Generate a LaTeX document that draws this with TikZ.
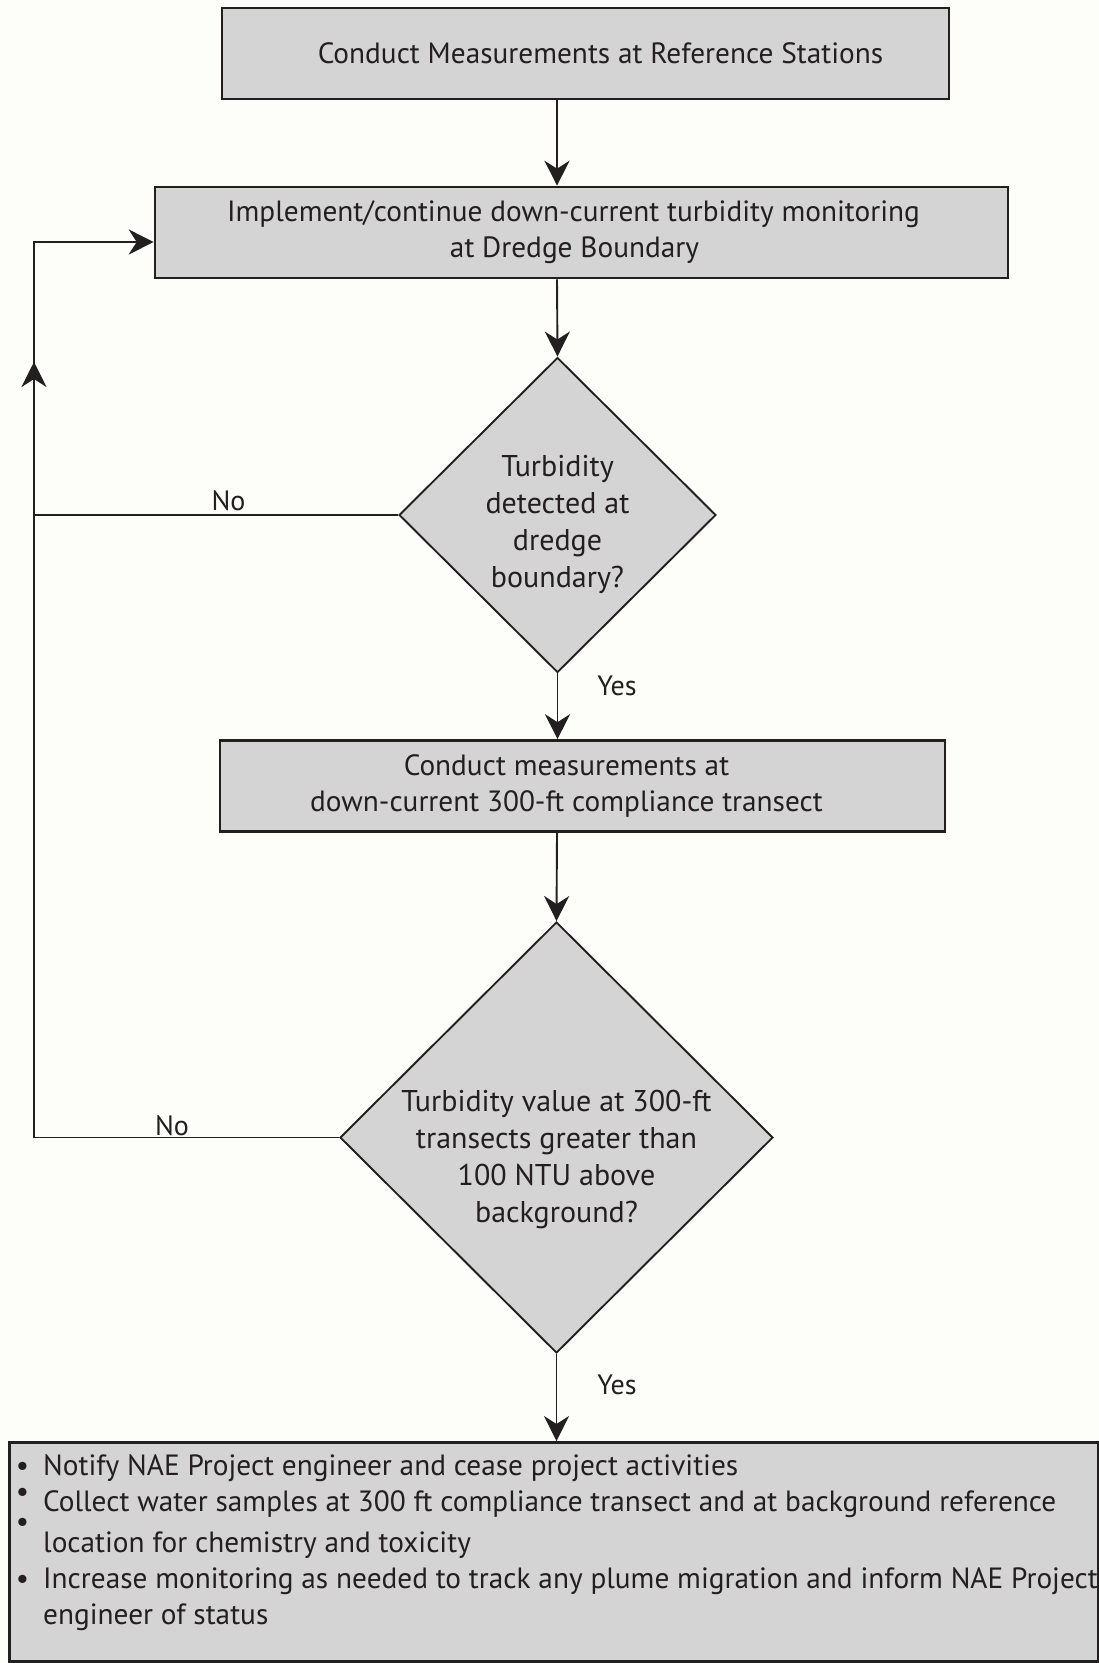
\documentclass[tikz,border=0pt]{standalone}
\usepackage{fontspec}
\setmainfont{PT Sans}
\usetikzlibrary{arrows.meta,positioning,shapes.geometric}
\definecolor{boxfill}{RGB}{212,212,212}
\definecolor{inkline}{RGB}{35,31,32}
\definecolor{paper}{RGB}{253,253,250}
\newcommand\actbullet[1][0pt]{\llap{\raisebox{#1}{\textbullet}\hspace{14pt}}}

\begin{document}
\begin{tikzpicture}[
  x=1pt, y=-1pt,
  box/.style={draw=inkline, line width=2.6pt, fill=boxfill, align=center, inner sep=0pt, text=inkline, font=\fontsize{29.3}{36}\selectfont},
  decision/.style={diamond, draw=inkline, line width=1.9pt, fill=boxfill, inner sep=0pt},
  qtext/.style={align=center, inner sep=0pt, text=inkline, font=\fontsize{30}{37}\selectfont},
  tag/.style={inner sep=0pt, text=inkline, font=\fontsize{28}{30}\selectfont},
  arrow/.style={-{Stealth[length=25pt, width=25pt, inset=8pt]}, line width=1.9pt, draw=inkline},
  wire/.style={line width=1.9pt, draw=inkline}
]
\fill[paper] (0,0) rectangle (1099,1663);
\useasboundingbox (0,0) rectangle (1099,1663);

% boxes and decisions
\node[box, minimum width=727pt, minimum height=91pt] (ref) at (585.5,53.5) {\hspace*{30pt}Conduct Measurements at Reference Stations};
\node[box, minimum width=853pt, minimum height=91pt] (impl) at (581.5,232.5) {Implement/continue down-current turbidity monitoring\hspace*{16pt}\\at Dredge Boundary\hspace*{14pt}};
\node[decision, minimum width=317pt, minimum height=315pt] (det) at (557.5,515) {};
\node[qtext] (dettxt) at (557.5,524) {Turbidity\\detected at\\dredge\\boundary?};
\node[box, minimum width=725pt, minimum height=91pt] (meas) at (582.5,786) {Conduct measurements at\hspace*{32pt}\\down-current 300-ft compliance transect\hspace*{32pt}};
\node[decision, minimum width=433pt, minimum height=431pt] (ntu) at (556.5,1137.5) {};
\node[qtext] (ntutxt) at (556.5,1159) {Turbidity value at 300-ft\\transects greater than\\100 NTU above\\background?};
\node[box, anchor=north west, minimum width=1089pt, minimum height=219pt] (actions) at (8,1441) {};
\node[anchor=north west, align=left, inner sep=0pt, text=inkline, font=\fontsize{29.3}{36}\selectfont] (acttxt) at (43,1454) {%
  \actbullet Notify NAE Project engineer and cease project activities\\
  \actbullet[10pt]Collect water samples at 300 ft compliance transect and at background reference\\
  \actbullet[21pt]location for chemistry and toxicity\\
  \actbullet Increase monitoring as needed to track any plume migration and inform NAE Project\\
  engineer of status};

% connectors
\coordinate (spine) at (557,0);
\coordinate (rail) at (34,0);
\coordinate (upmark) at (34,362);
\draw[arrow] (ref.south -| spine) -- (impl.north -| spine);
\draw[arrow] (impl.south -| spine) -- (det.north);
\draw[arrow] (det.south) -- (meas.north -| det.south);
\draw[arrow] (meas.south -| spine) -- (ntu.north);
\draw[arrow] (ntu.south) -- (actions.north -| ntu.south);
\draw[arrow] (ntu.west) -- (ntu.west -| rail) |- ([yshift=-9.5pt]impl.west);
\draw[wire] (det.west) -- (det.west -| rail);
\draw[arrow] ([yshift=-30pt]upmark) -- (upmark);

% branch labels
\node[tag, anchor=base] (no1) at (228.5,510) {No};
\node[tag, anchor=base] (yes1) at (617,695) {Yes};
\node[tag, anchor=base] (no2) at (172,1135) {No};
\node[tag, anchor=base] (yes2) at (617,1394) {Yes};
\end{tikzpicture}
\end{document}
